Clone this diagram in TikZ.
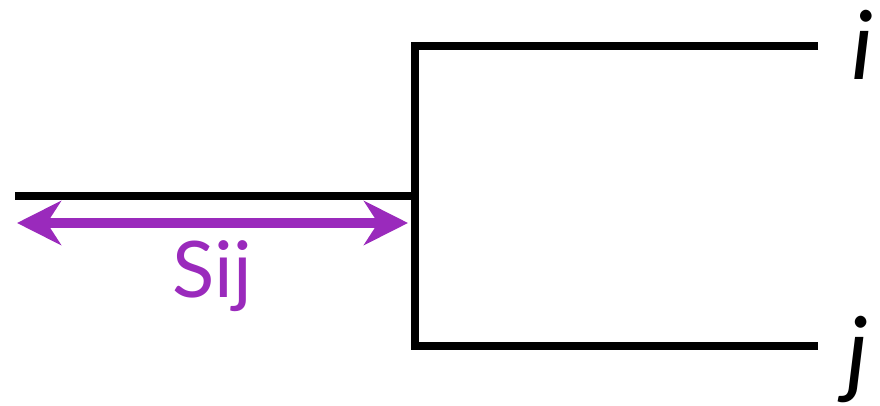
\documentclass[tikz,border=0pt]{standalone}
\usepackage{fontspec}
\setmainfont{Lato}
\usetikzlibrary{arrows.meta,positioning}
\definecolor{distpurple}{RGB}{154,42,188}

\begin{document}
\begin{tikzpicture}
      [x=1pt, y=1pt,
        branch/.style={draw=black, line width=8pt, line join=miter},
        leaf/.style={
          font=\fontsize{95}{95}\selectfont\itshape,
          inner sep=0pt,
          anchor=base west},
        dist/.style={draw=distpurple, line width=10pt,
          {Stealth[length=44pt,width=44pt,inset=14pt]}-{Stealth[length=44pt,width=44pt,inset=14pt]}},
        distlabel/.style={
          text=distpurple,
          font=\fontsize{78}{78}\selectfont,
          inner sep=0pt,
          anchor=base}]
      \useasboundingbox (0,0) rectangle (880,406);
      % the tree
      \coordinate (root) at (15,210);
      \coordinate (fork) at (415,210);
      \coordinate (forkup) at (415,360);
      \coordinate (forkdown) at (415,60);
      \coordinate (tipi) at (818,360);
      \coordinate (tipj) at (818,60);
      \node[leaf] (i) at (851,326) {i};
      \node[leaf] (j) at (846,20) {j};
      \draw[branch] (tipi) -- (forkup) -- (forkdown) -- (tipj);
      \draw[branch] (root) -- (fork);
      % branch length
      \coordinate (distl) at (17,183);
      \coordinate (distr) at (408,183);
      \draw[dist] (distl) -- (distr);
      \node[distlabel] (sij) at (212,108) {Sij};
    \end{tikzpicture}
\end{document}
